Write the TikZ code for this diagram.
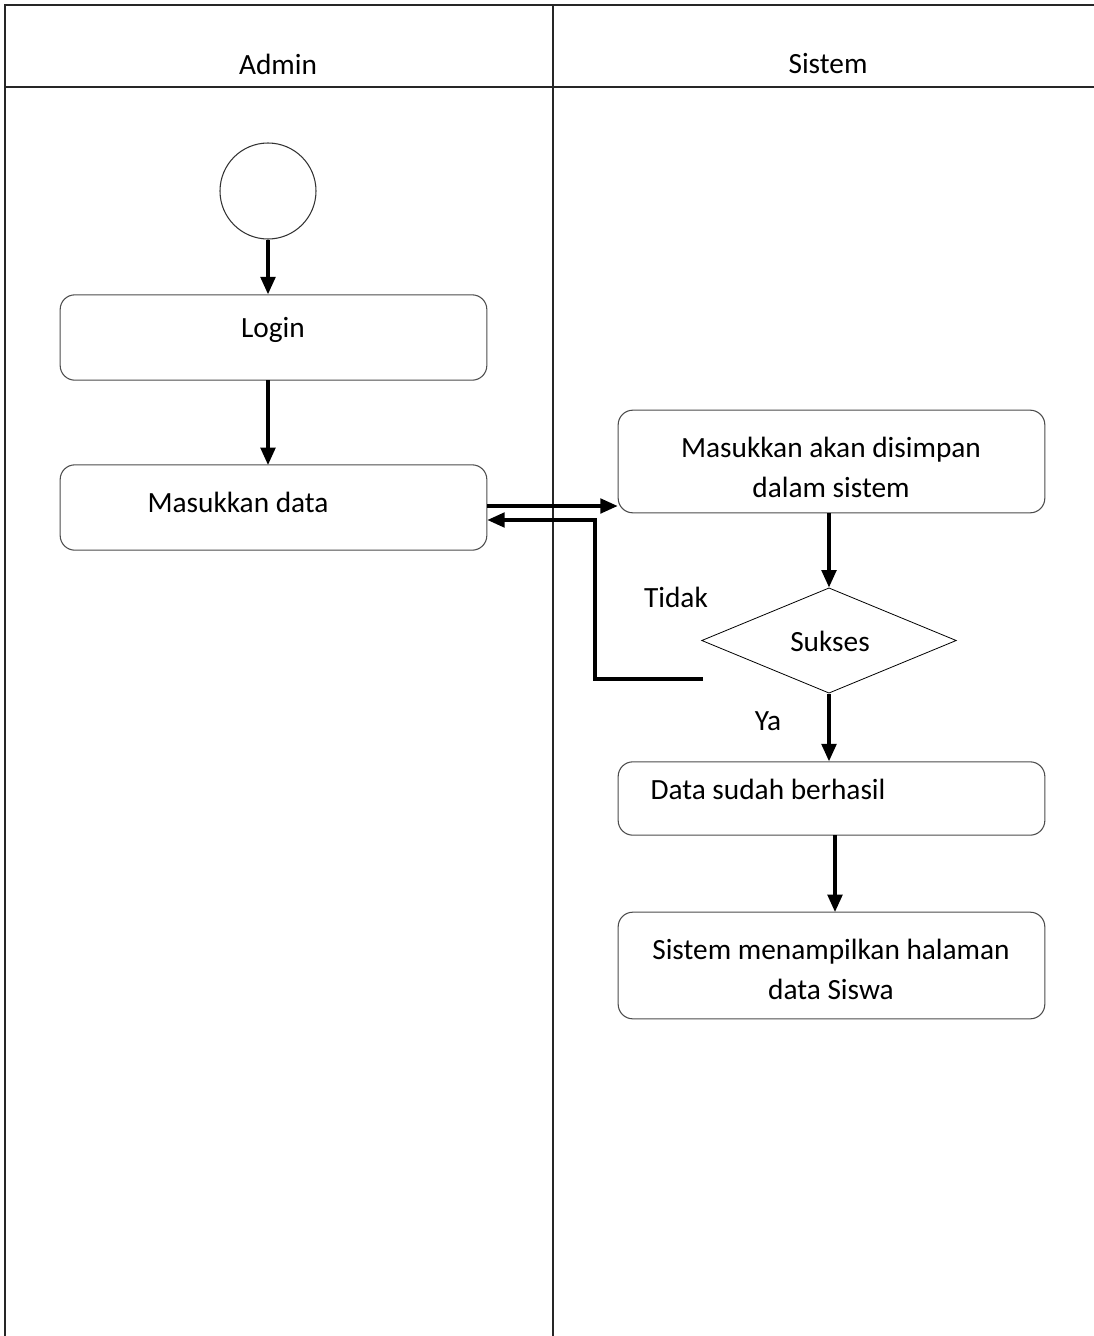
\documentclass[tikz,border=0pt]{standalone}
\usepackage{fontspec}
\setmainfont{Carlito}
\usetikzlibrary{arrows.meta,shapes.geometric}

\begin{document}
\begin{tikzpicture}[x=0.75pt,y=-0.75pt,
  font=\fontsize{22}{30}\selectfont,
  lane/.style={line width=1.1pt,draw=black!85},
  actbox/.style={draw=black!70,line width=0.8pt,rounded corners=11pt,
    minimum width=320pt,inner sep=0pt},
  flow/.style={line width=2.4pt,-{Triangle[length=13pt,width=11pt]}},
  lbl/.style={inner sep=0pt}]

  \useasboundingbox (0,0) rectangle (1094,1336);

  % swimlanes
  \draw[lane] (1094,5) -- (5,5) -- (5,1336);
  \draw[lane] (553,5) -- (553,1336);
  \draw[lane] (5,87) -- (1094,87);
  \node[lbl] (admin) at (278,64) {Admin};
  \node[lbl] (sistem) at (828,64) {Sistem};

  % admin side
  \node[draw=black!80,line width=0.8pt,circle,minimum size=72pt,inner sep=0pt] (start) at (268,191) {};
  \node[actbox,minimum height=64pt] (login) at (273.5,337.5) {};
  \node[lbl] at (273,330) {Login};
  \node[actbox,minimum height=64pt] (input) at (273.5,507.5) {};
  \node[lbl] (inputtxt) at (238,502) {Masukkan data};

  % system side
  \node[actbox,minimum height=77pt] (save) at (831.5,461.5) {};
  \node[lbl,align=center] at (831,467) {Masukkan akan disimpan\\dalam sistem};
  \node[draw=black,line width=0.6pt,diamond,aspect=2.43,minimum width=191pt,
    minimum height=79pt,inner sep=0pt] (ok) at (829,640.5) {};
  \node[lbl] at (830,641) {Sukses};
  \node[lbl] (no) at (676,597) {Tidak};
  \node[lbl] (yes) at (768,721) {Ya};
  \node[actbox,minimum height=55pt] (done) at (831.5,798.5) {};
  \node[lbl] (donetxt) at (768,789) {Data sudah berhasil};
  \node[actbox,minimum height=80pt] (show) at (831.5,965.5) {};
  \node[lbl,align=center] at (831,969) {Sistem menampilkan halaman\\data Siswa};

  \coordinate (back) at (703,679);

  % arrows
  \draw[flow] (start) -- (start.south |- login.north);
  \draw[flow] (268,380) -- (268,465);
  \draw[flow] (input.east |- 0,506) -- (save.west |- 0,506);
  \draw[flow] (back) -- (595,679) -- (595,520) -- (input.east |- 0,520);
  \draw[flow] (ok.north |- save.south) -- (ok.north);
  \draw[flow] (ok.south) -- (ok.south |- done.north);
  \draw[flow] (835,835) -- (835,912);

\end{tikzpicture}
\end{document}
